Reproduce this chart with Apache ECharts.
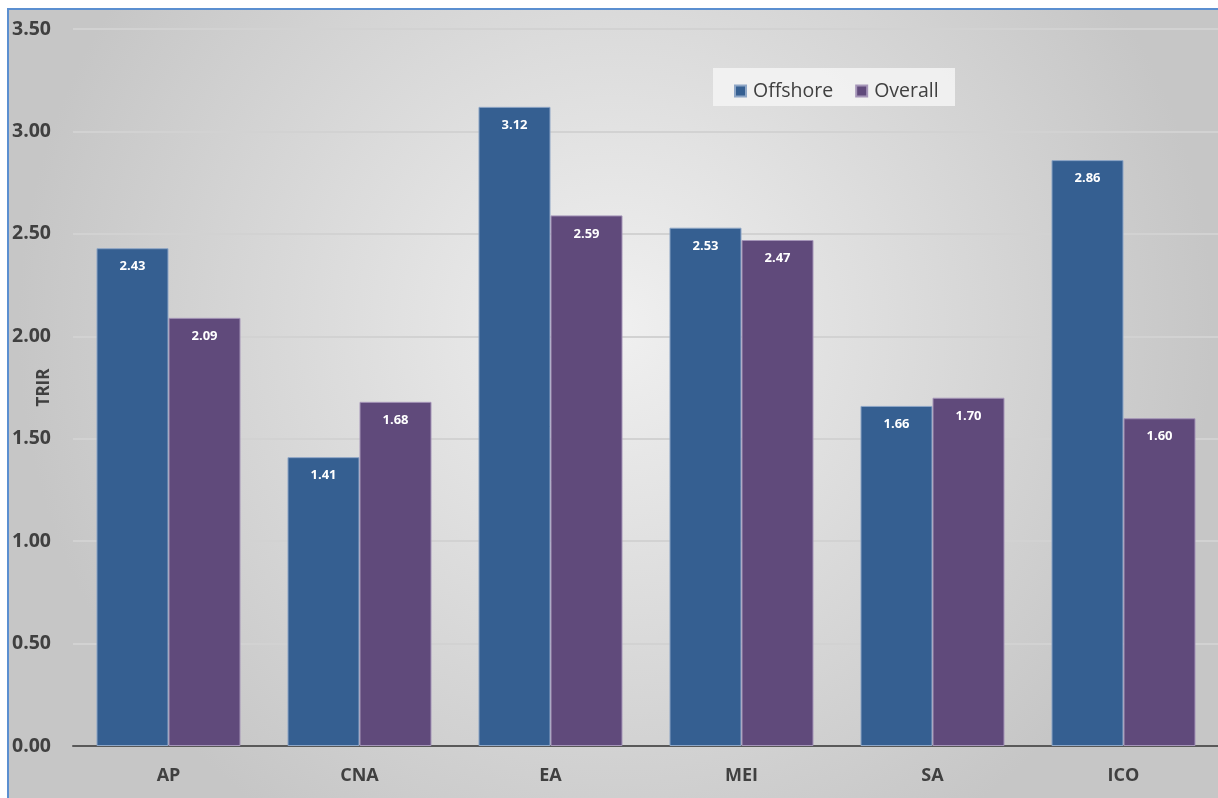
<!DOCTYPE html>
<html><head><meta charset="utf-8">
<script src="https://cdn.jsdelivr.net/npm/echarts@6/dist/echarts.min.js"></script>
<style>html,body{margin:0;padding:0;background:#fff}#c{width:1218px;height:798px}</style>
</head><body><div id="c"></div>
<script>
const categories = ['AP','CNA','EA','MEI','SA','ICO'];
const offshore = [2.43,1.41,3.12,2.53,1.66,2.86];
const overall = [2.09,1.68,2.59,2.47,1.70,1.60];
const yTicks = {min:0,max:3.5,interval:0.5};
const chart = echarts.init(document.getElementById('c'));
const font = '"Open Sans", "Noto Sans", sans-serif';
chart.setOption({
  animation:false,
  graphic:[
    {type:'rect',z:-10,shape:{x:8,y:9,width:1215,height:795},
     style:{fill:{type:'radial',x:0.5,y:0.4,r:0.75,colorStops:[{offset:0,color:'#f0f0f0'},{offset:1,color:'#c6c6c6'}]},stroke:'#5b8fd0',lineWidth:2}},
    {type:'rect',z:0,shape:{x:713,y:68,width:242,height:38},style:{fill:'rgba(245,245,245,0.85)'}}
  ],
  legend:{left:729,top:76,itemWidth:11,itemHeight:11,itemGap:22,icon:'rect',
    textStyle:{fontFamily:font,fontSize:19.5,color:'#404040',padding:[0,0,0,2]},
    data:['Offshore','Overall']},
  grid:{left:73,top:29,width:1146,height:717,containLabel:false,outerBoundsMode:'none'},
  xAxis:{type:'category',data:categories,
    axisLine:{lineStyle:{color:'#595959',width:2}},axisTick:{show:false},
    axisLabel:{fontFamily:font,fontSize:18,fontWeight:'bold',color:'#404040',margin:21}},
  yAxis:{type:'value',min:yTicks.min,max:yTicks.max,interval:yTicks.interval,
    name:'TRIR',nameLocation:'middle',nameGap:20,nameRotate:90,nameMoveOverlap:false,
    nameTextStyle:{fontFamily:font,fontSize:17,fontWeight:'bold',color:'#404040'},
    axisLabel:{formatter:v=>v.toFixed(2),fontFamily:font,fontSize:19.5,fontWeight:'bold',color:'#404040',margin:61,align:'left'},
    splitLine:{lineStyle:{color:'#d2d2d2',width:2}}},
  series:[
    {name:'Offshore',type:'bar',data:offshore,barGap:'0%',barCategoryGap:'24.6%',
     itemStyle:{color:'#355f91',borderColor:'#8ea6c6',borderWidth:1},
     label:{show:true,position:'insideTop',distance:12,formatter:p=>p.value.toFixed(2),color:'#fff',fontFamily:font,fontWeight:'bold',fontSize:13}},
    {name:'Overall',type:'bar',data:overall,
     itemStyle:{color:'#604a7b',borderColor:'#a595b8',borderWidth:1},
     label:{show:true,position:'insideTop',distance:12,formatter:p=>p.value.toFixed(2),color:'#fff',fontFamily:font,fontWeight:'bold',fontSize:13}}
  ]
});
</script></body></html>
